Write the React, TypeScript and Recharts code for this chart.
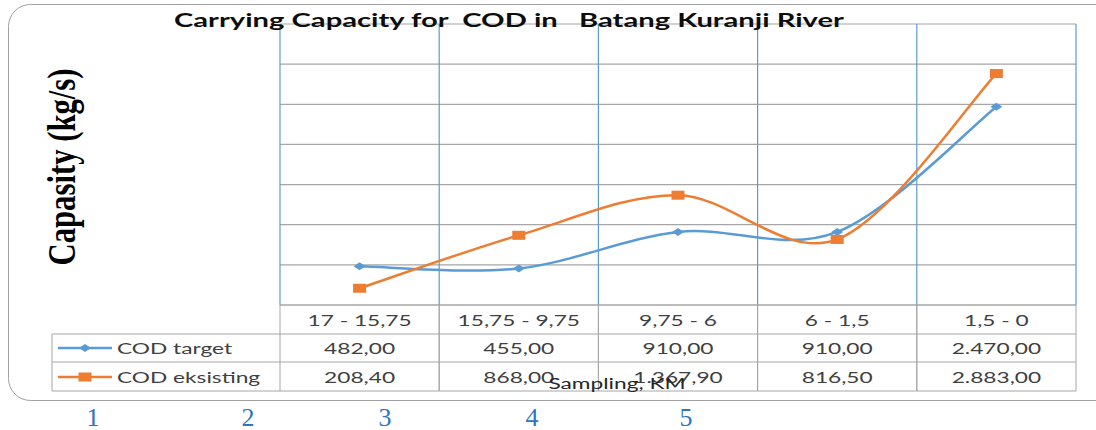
import { LineChart, Line, XAxis, YAxis, CartesianGrid } from "recharts"

const categories = ["17 - 15,75", "15,75 - 9,75", "9,75 - 6", "6 - 1,5", "1,5 - 0"]
const codTarget = [482, 455, 910, 910, 2470]
const codEksisting = [208.4, 868, 1367.9, 816.5, 2883]
const yTicks = [0, 500, 1000, 1500, 2000, 2500, 3000, 3500]
const seriesNames = ["COD target", "COD eksisting"]
const pageNumbers = ["1", "2", "3", "4", "5"]

const data = categories.map((cat, i) => ({ cat, target: codTarget[i], eksisting: codEksisting[i] }))

// layout (not data)
const W = 1096
const H = 430
const pageNumberX = [93, 248, 385, 532, 686]
const BLUE = "#5b9bd5"
const ORANGE = "#ed7d31"
const GRID = "#a6a6a6"
const TEXT = "#404040"
const SX = 1.42
const SANS = "Lato, 'Open Sans', sans-serif"

// Excel-like smoothing (Catmull-Rom style bezier through the points)
const excelCurve = (context: any) => {
  let pts: number[][] = []
  return {
    areaStart() {},
    areaEnd() {},
    lineStart() {
      pts = []
    },
    point(x: number, y: number) {
      pts.push([+x, +y])
    },
    lineEnd() {
      const n = pts.length
      if (!n) return
      context.moveTo(pts[0][0], pts[0][1])
      for (let i = 0; i < n - 1; i++) {
        const p0 = pts[Math.max(i - 1, 0)]
        const p1 = pts[i]
        const p2 = pts[i + 1]
        const p3 = pts[Math.min(i + 2, n - 1)]
        context.bezierCurveTo(
          p1[0] + (p2[0] - p0[0]) / 6,
          p1[1] + (p2[1] - p0[1]) / 6,
          p2[0] - (p3[0] - p1[0]) / 6,
          p2[1] - (p3[1] - p1[1]) / 6,
          p2[0],
          p2[1]
        )
      }
    },
  }
}

const fmt = (v: number) => {
  const [i, d] = v.toFixed(2).split(".")
  return i.replace(/\B(?=(\d{3})+(?!\d))/g, ".") + "," + d
}

function Stretch({ x, y, children, size = 16, fill = TEXT, anchor = "middle" }: any) {
  return (
    <text
      transform={`translate(${x},${y}) scale(${SX},1)`}
      textAnchor={anchor}
      fontFamily={SANS}
      fontSize={size}
      fill={fill}
      style={{ whiteSpace: "pre" }}
    >
      {children}
    </text>
  )
}

const diamond = (cx: number, cy: number) =>
  `M${cx - 6},${cy} L${cx},${cy - 4} L${cx + 6},${cy} L${cx},${cy + 4} Z`

const TargetDot = (p: any) => <path key={`t${p.index}`} d={diamond(p.cx, p.cy)} fill={BLUE} />
const EksistingDot = (p: any) => (
  <rect key={`e${p.index}`} x={p.cx - 6.5} y={p.cy - 4.5} width={13} height={9} fill={ORANGE} />
)

const rowLines = [0, 29, 57, 86]

const TableTick = (props: any) => {
  const { x, y, payload, index, width, visibleTicksCount } = props
  const half = (width || 796) / (visibleTicksCount || categories.length) / 2
  const left = x - half
  const right = x + half
  const legendLeft = left - 228
  return (
    <g>
      {rowLines.map((r) => (
        <line key={r} x1={left} x2={right} y1={y + r} y2={y + r} stroke={GRID} />
      ))}
      <line x1={left} x2={left} y1={y} y2={y + 86} stroke={GRID} />
      <line x1={right} x2={right} y1={y} y2={y + 86} stroke={GRID} />
      <Stretch x={x} y={y + 20.5}>{payload.value}</Stretch>
      <Stretch x={x} y={y + 49}>{fmt(codTarget[index])}</Stretch>
      <Stretch x={x} y={y + 77.5}>{fmt(codEksisting[index])}</Stretch>
      {index === 0 && (
        <g>
          {rowLines.slice(1).map((r) => (
            <line key={r} x1={legendLeft} x2={left} y1={y + r} y2={y + r} stroke={GRID} />
          ))}
          <line x1={legendLeft} x2={legendLeft} y1={y + 29} y2={y + 86} stroke={GRID} />
          <line x1={legendLeft + 6} x2={legendLeft + 60} y1={y + 43} y2={y + 43} stroke={BLUE} strokeWidth={2.5} />
          <path d={diamond(legendLeft + 33, y + 43)} fill={BLUE} />
          <line x1={legendLeft + 6} x2={legendLeft + 60} y1={y + 72} y2={y + 72} stroke={ORANGE} strokeWidth={2.5} />
          <rect x={legendLeft + 26.5} y={y + 67.5} width={13} height={9} fill={ORANGE} />
          <Stretch x={legendLeft + 65} y={y + 49} anchor="start">{seriesNames[0]}</Stretch>
          <Stretch x={legendLeft + 65} y={y + 77.5} anchor="start">{seriesNames[1]}</Stretch>
        </g>
      )}
    </g>
  )
}

export default function App() {
  return (
    <div style={{ position: "absolute", left: 0, top: 0, width: W, height: H, background: "#fff" }}>
      <svg width={W} height={H} style={{ position: "absolute", left: 0, top: 0 }}>
        <rect x={8.5} y={4.5} width={1120} height={396} rx={22} fill="#fff" stroke="#a0a0a0" />
      </svg>
      <div style={{ position: "absolute", left: 0, top: 0 }}>
        <LineChart width={W} height={H} data={data} margin={{ top: 24, right: 20, left: 280, bottom: 39 }}>
          <CartesianGrid vertical={false} stroke={GRID} strokeWidth={1.2} />
          <CartesianGrid
            horizontal={false}
            stroke={BLUE}
            strokeWidth={1.2}
            verticalCoordinatesGenerator={({ offset }: any) =>
              categories
                .map((_, i) => offset.left + (i * offset.width) / categories.length)
                .concat(offset.left + offset.width)
            }
          />
          <XAxis
            dataKey="cat"
            scale="band"
            height={86}
            interval={0}
            tickLine={false}
            axisLine={false}
            tickSize={0}
            tickMargin={0}
            tick={<TableTick />}
          />
          <YAxis hide domain={[0, 3500]} ticks={yTicks} />
          <Line
            dataKey="target"
            type={excelCurve as any}
            stroke={BLUE}
            strokeWidth={2.5}
            dot={TargetDot}
            activeDot={false}
            isAnimationActive={false}
          />
          <Line
            dataKey="eksisting"
            type={excelCurve as any}
            stroke={ORANGE}
            strokeWidth={2.5}
            dot={EksistingDot}
            activeDot={false}
            isAnimationActive={false}
          />
        </LineChart>
      </div>
      <svg width={W} height={H} style={{ position: "absolute", left: 0, top: 0, pointerEvents: "none" }}>
        <text
          x={174}
          y={27}
          fontFamily={SANS}
          fontWeight={700}
          fontSize={19}
          fill="#0d0d0d"
          textLength={670}
          lengthAdjust="spacingAndGlyphs"
          style={{ whiteSpace: "pre" }}
        >
          Carrying Capacity for  COD in   Batang Kuranji River
        </text>
        <text
          transform={`translate(75,167) scale(1.45,1) rotate(-90)`}
          textAnchor="middle"
          fontFamily="'Liberation Serif', 'Times New Roman', serif"
          fontWeight={700}
          fontSize={28}
          fill="#000"
          textLength={197}
          lengthAdjust="spacingAndGlyphs"
        >
          Capasity (kg/s)
        </text>
        <Stretch x={617} y={389} fill="#262626">Sampling, KM</Stretch>
        {pageNumbers.map((n, i) => (
          <text
            key={n}
            x={pageNumberX[i]}
            y={426}
            textAnchor="middle"
            fontFamily="'Liberation Serif', 'Times New Roman', serif"
            fontSize={26}
            fill="#2e74c0"
          >
            {n}
          </text>
        ))}
      </svg>
    </div>
  )
}
